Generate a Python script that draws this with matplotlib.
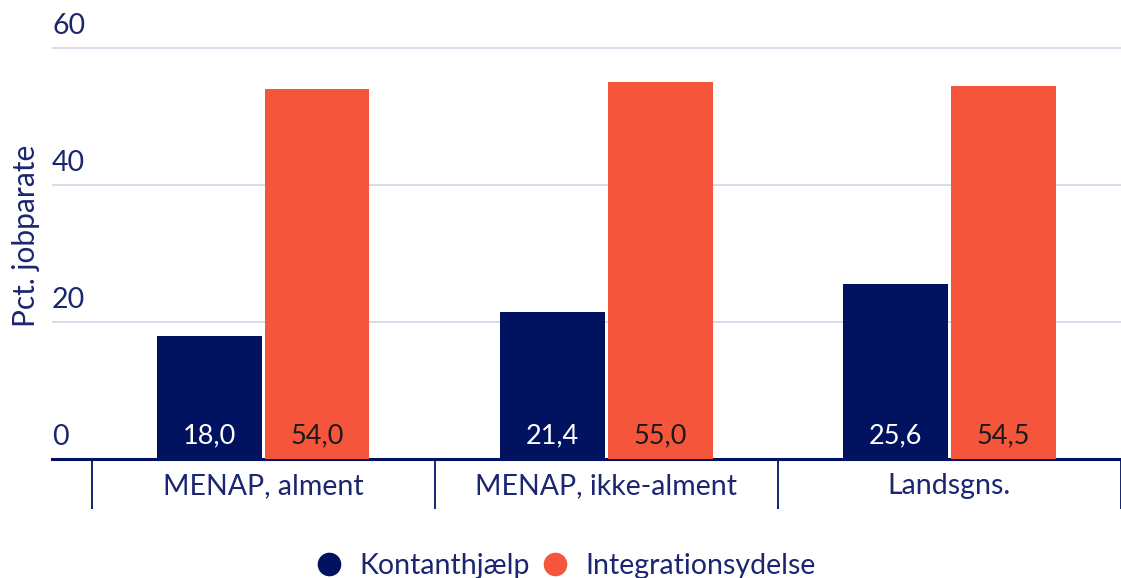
import matplotlib
matplotlib.use("Agg")
import matplotlib.pyplot as plt
import numpy as np
from matplotlib.lines import Line2D
import matplotlib.transforms as mtransforms

plt.rcParams['font.family'] = ['Lato', 'DejaVu Sans']

categories = ["MENAP, alment", "MENAP, ikke-alment", "Landsgns."]
series_names = ["Kontanthjælp", "Integrationsydelse"]
kontant = [18.0, 21.4, 25.6]
integration = [54.0, 55.0, 54.5]
yticks = [0, 20, 40, 60]

NAVY = "#001260"
ORANGE = "#f5553b"
TEXT = "#1c2670"
GRID = "#d3d6e8"

W, H = 1121, 578
fig = plt.figure(figsize=(W / 100, H / 100), dpi=100)
ax = fig.add_axes([52 / W, 119 / H, 1 - 52 / W, (536.85 - 119) / H])

x = np.arange(len(categories))
bw = 0.305
off = 0.157
b1 = ax.bar(x - off, kontant, width=bw, color=NAVY, zorder=3)
b2 = ax.bar(x + off, integration, width=bw, color=ORANGE, zorder=3)

for rect, v in zip(b1, kontant):
    ax.text(rect.get_x() + rect.get_width() / 2, 1.5, f"{v:.1f}".replace(".", ","),
            ha="center", va="bottom", color="white", fontsize=19.5, zorder=4)
for rect, v in zip(b2, integration):
    ax.text(rect.get_x() + rect.get_width() / 2, 1.5, f"{v:.1f}".replace(".", ","),
            ha="center", va="bottom", color="#1a1a1a", fontsize=19.5, zorder=4)

ax.set_xlim(-0.5 - 40 / 346, 2.5 - 10 / 346)
ax.set_ylim(0, 61)

# grid lines
for t in yticks[1:]:
    ax.axhline(t, color=GRID, lw=1.2, zorder=1)

# y tick labels above gridlines
trans = mtransforms.blended_transform_factory(ax.transAxes, ax.transData)
for t in yticks:
    ax.text(0.0, t + 1.3, str(t), transform=trans, ha="left", va="bottom",
            color=TEXT, fontsize=20.5)
ax.set_yticks([])

for s in ["top", "right", "left"]:
    ax.spines[s].set_visible(False)
ax.spines["bottom"].set_color(NAVY)
ax.spines["bottom"].set_linewidth(2.2)

ax.set_xticks(x)
ax.set_xticklabels(categories, fontsize=20.5, color=TEXT)
ax.tick_params(axis="x", which="major", length=0, pad=10)
ax.set_xticks(np.arange(-0.5, len(categories) - 0.4, 1.0), minor=True)
ax.tick_params(axis="x", which="minor", length=36, width=1.3, color=NAVY, direction="out")

ax.set_ylabel("Pct. jobparate", fontsize=21.5, color=TEXT)
ax.yaxis.set_label_coords(-12 / (W - 52), 0.535)

handles = [Line2D([], [], marker="o", ls="", ms=16, color=NAVY),
           Line2D([], [], marker="o", ls="", ms=16, color=ORANGE)]
fig.legend(handles, series_names, loc="center", bbox_to_anchor=(558 / W, 1 - 566 / H),
           ncol=2, frameon=False, fontsize=20.5, handletextpad=0.05, columnspacing=-0.1,
           labelcolor=TEXT)

fig.savefig("out.png", dpi=100)
